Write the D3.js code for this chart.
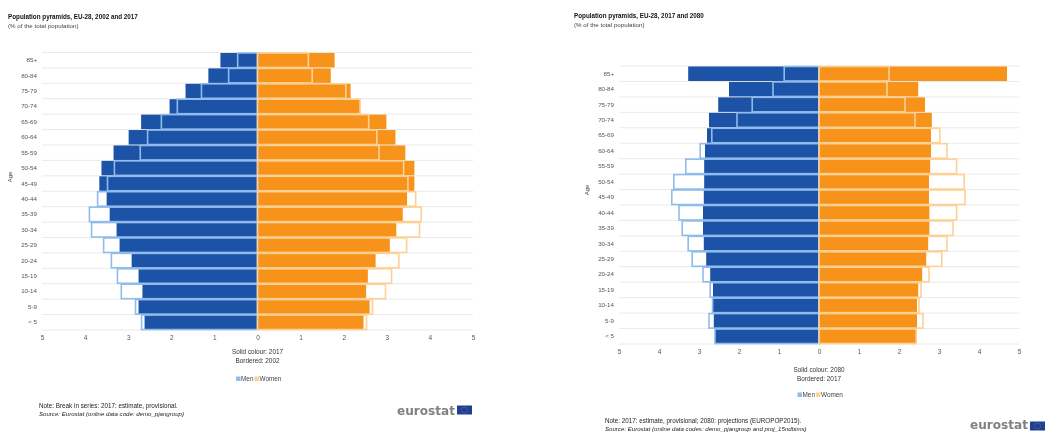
<!DOCTYPE html>
<html>
<head>
<meta charset="utf-8">
<script src="https://cdn.jsdelivr.net/npm/d3@7"></script>
<style>
html,body{margin:0;padding:0;background:#fff;}
svg{display:block;filter:blur(0.7px);font-family:"Liberation Sans",Arial,sans-serif;}
</style>
</head>
<body>
<div id="chart"></div>
<script>
var ages=["85+","80-84","75-79","70-74","65-69","60-64","55-59","50-54","45-49","40-44","35-39","30-34","25-29","20-24","15-19","10-14","5-9","< 5"];
var ticks=[-5,-4,-3,-2,-1,0,1,2,3,4,5];

// left chart: solid = 2017, bordered = 2002
var men2017=[0.86,1.14,1.67,2.04,2.70,2.99,3.34,3.62,3.67,3.50,3.43,3.27,3.20,2.92,2.76,2.67,2.76,2.62];
var men2002=[0.46,0.67,1.30,1.86,2.23,2.55,2.72,3.32,3.48,3.71,3.90,3.85,3.57,3.39,3.25,3.16,2.83,2.69];
var women2017=[1.79,1.70,2.16,2.38,2.99,3.20,3.43,3.64,3.64,3.47,3.37,3.22,3.07,2.74,2.56,2.52,2.60,2.46];
var women2002=[1.18,1.27,2.05,2.38,2.58,2.77,2.82,3.39,3.49,3.67,3.80,3.76,3.46,3.28,3.11,2.97,2.67,2.53];

// right chart: solid = 2080, bordered = 2017
var men2080=[3.27,2.25,2.52,2.75,2.80,2.85,2.87,2.87,2.88,2.90,2.90,2.88,2.82,2.72,2.65,2.65,2.63,2.60];
var men2017b=[0.87,1.15,1.67,2.05,2.68,2.97,3.33,3.63,3.68,3.50,3.42,3.27,3.17,2.90,2.72,2.66,2.75,2.60];
var women2080=[4.70,2.48,2.65,2.82,2.80,2.80,2.78,2.75,2.75,2.76,2.76,2.73,2.68,2.58,2.48,2.45,2.45,2.43];
var women2017b=[1.75,1.70,2.15,2.40,3.02,3.20,3.44,3.63,3.65,3.44,3.35,3.20,3.07,2.75,2.55,2.50,2.60,2.43];

var MEN="#1c53a6", MEN_EDGE="#8fbcec", WOMEN="#f7931a", WOMEN_EDGE="#fdd195";

var svg=d3.select("#chart").append("svg").attr("width",1055).attr("height",432);

function drawPyramid(c){
    var g=svg.append("g");
    var x=d3.scaleLinear().domain([-5,5]).range([c.x0,c.x1]);
    var y=d3.scaleBand().domain(ages).range([c.y0,c.y1]).paddingInner(0.06).paddingOuter(0.03);
    var step=y.step();

    // row separators
    g.selectAll("line.grid").data(d3.range(ages.length+1)).enter().append("line").attr("class","grid")
        .attr("x1",c.x0).attr("x2",c.x1)
        .attr("y1",function(i){return c.y0+i*step;}).attr("y2",function(i){return c.y0+i*step;})
        .attr("stroke","#e4e4e4").attr("stroke-width",0.8);

    function solid(vals,sign,color){
        g.append("g").selectAll("rect").data(vals).enter().append("rect")
            .attr("x",function(d){return sign<0?x(-d):x(0);})
            .attr("y",function(d,i){return y(ages[i]);})
            .attr("width",function(d){return Math.abs(x(d)-x(0));})
            .attr("height",y.bandwidth())
            .attr("fill",color);
    }
    function bordered(vals,sign,color){
        g.append("g").selectAll("rect").data(vals).enter().append("rect")
            .attr("x",function(d){return sign<0?x(-d):x(0);})
            .attr("y",function(d,i){return y(ages[i]);})
            .attr("width",function(d){return Math.abs(x(d)-x(0));})
            .attr("height",y.bandwidth())
            .attr("fill","none").attr("stroke",color).attr("stroke-width",1.6);
    }
    solid(c.menSolid,-1,MEN);
    solid(c.womenSolid,1,WOMEN);
    bordered(c.menEdge,-1,MEN_EDGE);
    bordered(c.womenEdge,1,WOMEN_EDGE);

    // axes
    var ax=g.append("g").attr("transform","translate(0,"+(c.y1+2)+")")
        .call(d3.axisBottom(x).tickValues(ticks).tickSize(0).tickFormat(function(d){return Math.abs(d);}));
    ax.select(".domain").remove();
    ax.selectAll("text").attr("fill","#555").style("font-size","6.5px");

    var ay=g.append("g").attr("transform","translate("+(c.x0+1)+",0)")
        .call(d3.axisLeft(y).tickSize(0).tickPadding(6));
    ay.select(".domain").remove();
    ay.selectAll("text").attr("fill","#555").style("font-size","6.2px");

    g.append("text").attr("transform","translate("+c.ageX+","+c.ageY+") rotate(-90)")
        .attr("text-anchor","middle").attr("fill","#444").style("font-size","6px").text("Age");

    // titles
    g.append("text").attr("x",c.titleX).attr("y",c.titleY).attr("fill","#111")
        .style("font-size","6.3px").style("font-weight","bold").text(c.title);
    g.append("text").attr("x",c.titleX).attr("y",c.titleY+9).attr("fill","#444")
        .style("font-size","6.2px").text("(% of the total population)");

    // solid / bordered key
    var mid=x(0);
    g.append("text").attr("x",mid).attr("y",c.keyY).attr("text-anchor","middle").attr("fill","#333")
        .style("font-size","6.4px").text(c.key1);
    g.append("text").attr("x",mid).attr("y",c.keyY+8.5).attr("text-anchor","middle").attr("fill","#333")
        .style("font-size","6.4px").text(c.key2);

    // legend
    var ly=c.legendY;
    g.append("rect").attr("x",mid-21.5).attr("y",ly-2.5).attr("width",4.5).attr("height",4.5).attr("fill",MEN_EDGE);
    g.append("text").attr("x",mid-16.5).attr("y",ly+2).attr("fill","#444").style("font-size","6.4px").text("Men");
    g.append("rect").attr("x",mid-3).attr("y",ly-2.5).attr("width",4.5).attr("height",4.5).attr("fill",WOMEN_EDGE);
    g.append("text").attr("x",mid+2).attr("y",ly+2).attr("fill","#444").style("font-size","6.4px").text("Women");

    // notes
    g.append("text").attr("x",c.noteX).attr("y",c.noteY).attr("fill","#222").style("font-size","6.3px").text(c.note);
    g.append("text").attr("x",c.noteX).attr("y",c.noteY+8).attr("fill","#222").style("font-size","6.1px")
        .style("font-style","italic").text(c.source);

    // eurostat logo
    g.append("text").attr("x",c.logoX).attr("y",c.logoBase).attr("fill","#808080")
        .style("font-family","'DejaVu Sans',sans-serif").style("font-size","13px").style("font-weight","bold")
        .attr("textLength",58).attr("lengthAdjust","spacingAndGlyphs").text("eurostat");
    g.append("rect").attr("x",c.logoX+60).attr("y",c.logoY-4.5).attr("width",15).attr("height",9).attr("fill","#1d3f94");
    g.selectAll("circle.star").data(d3.range(12)).enter().append("circle").attr("class","star")
        .attr("cx",function(i){return c.logoX+67.5+3*Math.cos(i*Math.PI/6);})
        .attr("cy",function(i){return c.logoY+3*Math.sin(i*Math.PI/6);})
        .attr("r",0.35).attr("fill","#e8c93a");
}

drawPyramid({
    x0:42,x1:473,y0:52.5,y1:330,ageX:12,ageY:177,
    titleX:8,titleY:19,title:"Population pyramids, EU-28, 2002 and 2017",
    menSolid:men2017,menEdge:men2002,womenSolid:women2017,womenEdge:women2002,
    key1:"Solid colour: 2017",key2:"Bordered: 2002",keyY:354,legendY:379,
    noteX:39,noteY:408,
    note:"Note: Break in series: 2017: estimate, provisional.",
    source:"Source: Eurostat (online data code: demo_pjangroup)",
    logoX:397,logoY:410,logoBase:414.5
});
drawPyramid({
    x0:619,x1:1019,y0:66,y1:344,ageX:589,ageY:190,
    titleX:574,titleY:18,title:"Population pyramids, EU-28, 2017 and 2080",
    menSolid:men2080,menEdge:men2017b,womenSolid:women2080,womenEdge:women2017b,
    key1:"Solid colour: 2080",key2:"Bordered: 2017",keyY:372,legendY:395,
    noteX:605,noteY:423,
    note:"Note: 2017: estimate, provisional; 2080: projections (EUROPOP2015).",
    source:"Source: Eurostat (online data codes: demo_pjangroup and proj_15ndbims)",
    logoX:970,logoY:426,logoBase:428.5
});
</script>
</body>
</html>
